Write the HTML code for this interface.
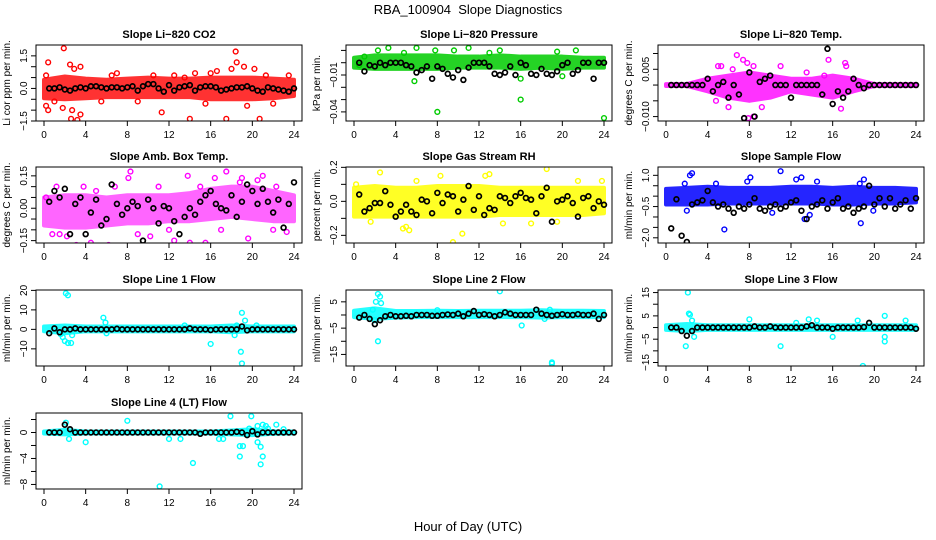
<!DOCTYPE html>
<html><head><meta charset="utf-8">
<style>
body{margin:0;background:#fff;}
svg{display:block;font-family:"Liberation Sans",sans-serif;}
</style></head>
<body>
<svg id="chart" width="936" height="540" viewBox="0 0 936 540" xmlns="http://www.w3.org/2000/svg">
<rect width="936" height="540" fill="#fff"/>
<text x="468" y="14" font-size="13" text-anchor="middle">RBA_100904&#160; Slope Diagnostics</text>
<text x="468" y="531" font-size="13" text-anchor="middle">Hour of Day (UTC)</text>
</svg>
<script>
const hours = [0.5,1,1.5,2,2.5,3,3.5,4,4.5,5,5.5,6,6.5,7,7.5,8,8.5,9,9.5,10,10.5,11,11.5,12,12.5,13,13.5,14,14.5,15,15.5,16,16.5,17,17.5,18,18.5,19,19.5,20,20.5,21,21.5,22,22.5,23,23.5,24];
const bandHours = [0,2,4,6,8,10,12,14,16,18,20,22,24];
const xTicks = [0,4,8,12,16,20,24];

const co2Black = [0.0,0.0,0.05,-0.05,-0.1,0.0,0.05,0.0,0.1,0.1,0.05,0.0,0.05,0.05,0.0,0.05,0.1,-0.1,0.1,0.2,0.2,0.0,-0.15,0.15,-0.1,0.05,0.1,0.15,-0.1,0.05,0.1,0.1,0.05,-0.1,-0.05,0.0,0.05,0.05,0.1,0.0,-0.1,-0.15,0.05,0.0,-0.05,-0.1,-0.15,0.0];
const co2Lo = [-0.45,-0.5,-0.45,-0.4,-0.4,-0.4,-0.4,-0.4,-0.5,-0.5,-0.5,-0.45,-0.35];
const co2Hi = [0.4,0.55,0.45,0.4,0.45,0.5,0.45,0.45,0.5,0.5,0.5,0.45,0.4];
const co2Out = [[1.9,1.85],[0.4,1.2],[0.2,0.6],[2.5,1.1],[2.9,0.9],[3.5,1.0],[0.2,-0.8],[0.4,-1.0],[1.8,-0.9],[2.6,-1.4],[3.2,-1.45],[3.5,-1.2],[2.7,-1.0],[7.0,0.7],[11.3,-1.1],[14.0,-1.4],[14.5,0.7],[17.5,-1.4],[18.4,1.7],[18.5,1.2],[18.0,0.9],[19.2,1.0],[20.2,0.9],[20.7,-1.4],[21.3,0.6],[23.5,0.6],[16.6,0.8],[16.0,0.7],[12.5,0.6],[1.0,-0.6],[5.5,-0.6],[9,-0.6],[15.5,-0.7],[19.5,-0.8],[22,-0.7],[6.5,0.6],[10.5,0.6],[13.5,0.5]];

const presBlack = [0.0,-0.007,-0.002,-0.003,0.0,-0.002,0.0,0.0,0.0,-0.002,-0.003,-0.008,-0.006,-0.003,-0.013,-0.003,-0.005,-0.009,-0.012,-0.006,-0.014,-0.004,0.0,0.0,0.0,-0.003,-0.009,-0.010,-0.008,-0.003,-0.010,0.0,-0.002,-0.009,-0.010,-0.005,-0.009,-0.010,-0.007,-0.002,0.0,-0.009,-0.006,0.0,0.0,-0.013,0.0,0.0];
const presLo = [-0.004,-0.005,-0.005,-0.005,-0.005,-0.004,-0.004,-0.004,-0.005,-0.004,-0.005,-0.004,-0.004];
const presHi = [0.004,0.006,0.006,0.006,0.006,0.005,0.005,0.006,0.005,0.005,0.005,0.004,0.004];
const presOut = [[8,-0.04],[16,-0.03],[24,-0.045],[3.3,0.012],[2.3,0.01],[6,0.012],[9.6,0.01],[13,0.008],[14,0.01],[21.3,0.01],[5.8,-0.015],[16,-0.013],[20,-0.011],[1,0.005],[0.5,-0.002],[4.8,0.008],[7.8,0.01],[11,0.012],[19.5,0.009]];

const tempBlack = [0,0,0,0,0,0,0,0.002,-0.002,0.0,0.001,-0.004,0.0,-0.003,-0.0105,0.004,-0.010,0.001,0.002,0.003,0.0,0.0,0.0,-0.004,0.0,0.0,0.0,0.0,0.0,-0.003,0.0115,-0.006,-0.002,-0.004,-0.002,0.002,0.0,-0.001,0,0,0,0,0,0,0,0,0,0];
const tempLo = [-0.0003,-0.0003,-0.002,-0.004,-0.005,-0.004,-0.002,-0.003,-0.004,-0.002,-0.0003,-0.0003,-0.0003];
const tempHi = [0.0003,0.0003,0.002,0.003,0.004,0.003,0.002,0.002,0.003,0.002,0.0003,0.0003,0.0003];
const tempOut = [[6.8,0.0095],[7.4,0.008],[7.8,0.007],[5,0.006],[5.3,0.006],[7.9,-0.0105],[8.4,-0.010],[4.8,-0.005],[6,-0.007],[9.2,-0.007],[15.6,0.008],[17.2,0.007],[17.3,0.006],[16.8,-0.0075],[16,-0.006],[11,0.006],[8.4,0.006],[6.4,0.005],[13.5,0.004],[15.2,0.003]];

const ambBlack = [0.03,0.08,0.05,0.09,-0.12,0.02,0.05,-0.12,-0.02,0.04,-0.08,-0.05,0.11,0.02,-0.03,0.0,0.03,0.01,-0.15,0.04,0.0,-0.07,0.01,0.0,-0.06,-0.12,-0.04,0.0,-0.03,0.03,0.06,0.08,0.02,0.0,-0.01,0.06,-0.04,0.03,0.11,0.08,0.02,0.09,0.03,-0.02,0.04,-0.09,0.02,0.12];
const ambLo = [-0.08,-0.09,-0.09,-0.08,-0.07,-0.07,-0.06,-0.06,-0.05,-0.04,-0.05,-0.06,-0.06];
const ambHi = [0.05,0.06,0.06,0.05,0.06,0.06,0.06,0.07,0.09,0.1,0.1,0.08,0.06];
const ambOut = [[1.2,0.1],[0.2,0.05],[3.1,-0.17],[5.5,-0.19],[6.2,-0.17],[7.5,-0.18],[9.5,-0.19],[8.1,0.14],[8.3,0.17],[13.8,0.15],[12.5,-0.15],[14,-0.16],[15.5,-0.16],[17.5,0.17],[19.6,-0.14],[21,0.15],[22.3,0.1],[1.5,-0.12],[4.5,-0.16],[10.2,-0.13],[16.4,0.14],[18.8,0.12],[0.8,-0.12],[2.2,-0.13],[3.8,0.1],[5,0.08],[6.8,0.1],[9,-0.12],[11,0.1],[12,-0.1],[15,0.1],[17,-0.1],[19,0.14],[20.5,0.13],[22,-0.1],[23.3,-0.11]];

const rhBlack = [0.04,-0.06,-0.04,-0.01,-0.01,0.06,-0.02,-0.09,-0.06,-0.02,-0.06,-0.08,0.01,0.0,-0.07,0.05,-0.01,0.04,0.03,-0.06,0.01,0.09,-0.05,0.03,-0.08,-0.04,-0.05,0.03,0.02,-0.01,0.03,0.05,0.02,0.01,-0.07,0.03,0.08,-0.12,0.0,0.01,0.03,-0.01,-0.09,0.02,0.03,-0.04,0.0,-0.02];
const rhLo = [-0.09,-0.09,-0.09,-0.09,-0.09,-0.09,-0.09,-0.08,-0.08,-0.08,-0.08,-0.08,-0.07];
const rhHi = [0.08,0.09,0.08,0.08,0.09,0.09,0.09,0.08,0.08,0.08,0.08,0.08,0.08];
const rhOut = [[2.5,0.17],[8.3,0.15],[12.6,0.15],[13,0.16],[18.5,0.19],[9.5,-0.24],[10.4,-0.19],[5,-0.15],[4.7,-0.16],[5.3,-0.17],[23.8,0.12],[0.2,0.1],[19.5,-0.12],[14.3,-0.13],[17,-0.13],[1.6,-0.12],[6,0.12],[21.5,0.12]];

const flowBlack = [-1.55,-0.15,-1.9,-2.2,-0.4,-0.3,-0.2,0.25,-0.3,-0.5,-0.4,-0.6,-0.8,-0.5,-0.6,-0.4,-0.1,-0.6,-0.7,-0.5,-0.4,-0.6,-0.5,-0.3,-0.2,-0.7,-1.1,-0.5,-0.4,-0.2,-0.6,-0.3,-0.1,-0.6,-0.5,-0.8,-0.6,-0.5,0.5,-0.4,-0.1,-0.5,-0.1,-0.6,-0.4,-0.2,-0.6,-0.1];
const flowLo = [-0.4,-0.4,-0.4,-0.35,-0.35,-0.35,-0.35,-0.35,-0.4,-0.4,-0.35,-0.35,-0.3];
const flowHi = [0.35,0.4,0.45,0.4,0.4,0.4,0.45,0.45,0.4,0.45,0.4,0.4,0.35];
const flowOut = [[2.3,1.0],[2.5,1.1],[1.8,0.6],[11,1.2],[13,0.9],[12.5,0.8],[8.1,0.9],[18.6,0.6],[19,0.8],[18.7,-1.3],[19.9,-0.7],[5.6,-1.6],[13.3,-1.1],[13.8,-0.9],[4.8,0.6],[7.8,0.7],[14.5,0.7],[2,-0.7],[10.2,-0.8]];

const l1Black = [-2,0.5,-1.5,0,0,0.5,0,0,0,0,0,0,0,0.3,0,0,0,0,0,0,0,0,0,0,0,0,0,0.5,0,0,0,-0.3,0,0,0,0,0,1.5,-0.5,0,0,0,0,0,0,0,0,0];
const l1Lo = [-1,-2,-1,-1,-1,-1,-1,-1,-1,-1.5,-1,-1,-1];
const l1Hi = [1.5,2,1.5,1.5,1.5,1.5,1.5,1.5,1.5,2,1.5,1.5,1.5];
const l1Out = [[2.1,18.5],[2.3,17.5],[1.8,-4],[2,-6],[2.3,-7],[2.6,-7],[2.7,-3],[5.7,6],[5.9,3.5],[6,-2],[16,-7.5],[18.9,-11.5],[19,-17.5],[19,8.5],[19.3,4.5],[18.5,2],[18.3,-3],[13.5,2],[20.4,2],[1.6,-2.5]];

const l2Black = [-1,0,-1.5,-3.5,-2,-0.5,0,-0.5,-0.5,-0.3,-0.5,0,0,0,-0.3,-0.3,0,0.2,0,0.5,-0.5,0.5,1.5,0,0.3,0,-0.5,0,1,0.5,0,0,0,0,2,0.5,0,-0.3,0,0.3,0,0,0.3,0,0,0.5,-1.5,0];
const l2Lo = [-0.8,-1.5,-1,-0.8,-0.8,-0.8,-0.8,-0.8,-0.8,-1,-0.8,-0.8,-0.8];
const l2Hi = [1.6,2.5,1.5,1.5,1.6,1.5,1.6,1.6,1.6,1.8,1.6,1.6,1.5];
const l2Out = [[2.3,8],[2.5,7],[2.1,5],[2.6,4.5],[2.3,-10],[14,9],[16.1,-4],[19,-18],[19,-18.5],[1.8,2],[18.3,-1.5],[18.8,2],[2,-2],[8,1.8]];

const l3Black = [0,0,-1.5,-3.5,-1.5,0,0,0,0,0,0,0,0,0,0,0,0.5,0,0,0.5,0,0,0,0,0,0,0.5,1,0,0,0,-0.5,0,0,0,0,0,0.2,2,0,0,0,0,0,0,0,0,-0.5];
const l3Lo = [-1,-1.5,-1,-1,-1,-1,-1,-1,-1,-1,-1,-1,-1];
const l3Hi = [1,1.5,1,1,1,1,1,1,1,1,1,1,1];
const l3Out = [[2.1,15],[2.2,6],[2.3,5.5],[2.5,3],[1.9,-8],[2.7,-4],[11,-8],[16,-4],[18.9,-16.5],[21,-6],[21,5],[21,-4],[23,3],[18.4,3],[8,3.5],[13.7,3.5],[14.5,3],[19.5,2],[12.5,2]];

const l4Black = [0,0,0,1.2,0.5,0,0,0,0,0,0,0,0,0,0,0,0,0,0,0,0,0,0,0,0,0,0,0,0,-0.2,0,0,0,0,0,0,0.1,0,-0.4,0.2,-0.3,0,0,0,0,0,0,0];
const l4Lo = [-0.15,-0.3,-0.15,-0.15,-0.15,-0.15,-0.15,-0.15,-0.15,-0.3,-0.4,-0.2,-0.15];
const l4Hi = [0.15,0.4,0.15,0.15,0.15,0.15,0.15,0.15,0.15,0.3,0.5,0.2,0.15];
const l4Out = [[2.1,1.5],[2.4,-1],[4,-1.5],[8,1.8],[11.1,-8.3],[12,-1],[13.1,-1],[14.3,-4.7],[16.8,-1],[17.2,-1],[17.9,2.5],[18.8,-2.1],[19.1,-2.1],[18.8,-3.7],[19.9,2.5],[20.5,-1.5],[20.8,-2.2],[21,-3.7],[20.8,-4.9],[21,1.2],[21.3,1],[22.3,1.2],[23,0.5],[20.5,1],[21.5,0.6],[19.7,0.6]];

const co2Ticks=[-1.5,-1,-0.5,0,0.5,1,1.5], co2Labels=["\u22121.5","","","0.0","","","1.5"];
const presTicks=[-0.04,-0.03,-0.02,-0.01,0,0.01], presLabels=["\u22120.04","","","\u22120.01","",""];
const tempTicks=[-0.01,-0.005,0,0.005,0.01], tempLabels=["\u22120.010","","","0.005",""];
const ambTicks=[-0.15,-0.1,-0.05,0,0.05,0.1,0.15], ambLabels=["\u22120.15","","","0.00","","","0.15"];
const rhTicks=[-0.2,-0.1,0,0.1,0.2], rhLabels=["\u22120.2","","0.0","","0.2"];
const flowTicks=[-2,-1.5,-1,-0.5,0,0.5,1], flowLabels=["\u22122.0","","","\u22120.5","","","1.0"];
const l1Ticks=[-10,0,10,20], l1Labels=["\u221210","0","10","20"];
const l2Ticks=[-15,-10,-5,0,5], l2Labels=["\u221215","","\u22125","","5"];
const l3Ticks=[-15,-10,-5,0,5,10,15], l3Labels=["\u221215","","\u22125","","5","","15"];
const l4Ticks=[-8,-6,-4,-2,0,2], l4Labels=["\u22128","","\u22124","","0",""];

const panels = [
 {name:"co2",title:"Slope Li\u2212820 CO2",ylab:"Li cor ppm per min.",col:0,row:0,ymin:-1.5,ymax:2.0,color:"#ff0000",op:0.8,black:co2Black,lo:co2Lo,hi:co2Hi,out:co2Out,ticks:co2Ticks,labels:co2Labels},
 {name:"pressure",title:"Slope Li\u2212820 Pressure",ylab:"kPa per min.",col:1,row:0,ymin:-0.0474,ymax:0.0144,color:"#00cc00",op:0.85,black:presBlack,lo:presLo,hi:presHi,out:presOut,ticks:presTicks,labels:presLabels},
 {name:"li820-temp",title:"Slope Li\u2212820 Temp.",ylab:"degrees C per min.",col:2,row:0,ymin:-0.0114,ymax:0.0127,color:"#ff00ff",op:0.8,black:tempBlack,lo:tempLo,hi:tempHi,out:tempOut,ticks:tempTicks,labels:tempLabels},
 {name:"amb-box-temp",title:"Slope Amb. Box Temp.",ylab:"degrees C per min.",col:0,row:1,ymin:-0.161,ymax:0.191,color:"#ff00ff",op:0.6,black:ambBlack,lo:ambLo,hi:ambHi,out:ambOut,ticks:ambTicks,labels:ambLabels},
 {name:"gas-stream-rh",title:"Slope Gas Stream RH",ylab:"percent per min.",col:1,row:1,ymin:-0.245,ymax:0.202,color:"#ffff00",op:0.85,black:rhBlack,lo:rhLo,hi:rhHi,out:rhOut,ticks:rhTicks,labels:rhLabels},
 {name:"sample-flow",title:"Slope Sample Flow",ylab:"ml/min per min.",col:2,row:1,ymin:-2.25,ymax:1.40,color:"#0000ff",op:0.85,black:flowBlack,lo:flowLo,hi:flowHi,out:flowOut,ticks:flowTicks,labels:flowLabels},
 {name:"line1-flow",title:"Slope Line 1 Flow",ylab:"ml/min per min.",col:0,row:2,ymin:-18.8,ymax:20.2,color:"#00ffff",op:0.85,black:l1Black,lo:l1Lo,hi:l1Hi,out:l1Out,ticks:l1Ticks,labels:l1Labels},
 {name:"line2-flow",title:"Slope Line 2 Flow",ylab:"ml/min per min.",col:1,row:2,ymin:-19.4,ymax:9.5,color:"#00ffff",op:0.85,black:l2Black,lo:l2Lo,hi:l2Hi,out:l2Out,ticks:l2Ticks,labels:l2Labels},
 {name:"line3-flow",title:"Slope Line 3 Flow",ylab:"ml/min per min.",col:2,row:2,ymin:-16.5,ymax:16.1,color:"#00ffff",op:0.85,black:l3Black,lo:l3Lo,hi:l3Hi,out:l3Out,ticks:l3Ticks,labels:l3Labels},
 {name:"line4-flow",title:"Slope Line 4 (LT) Flow",ylab:"ml/min per min.",col:0,row:3,ymin:-8.7,ymax:3.0,color:"#00ffff",op:0.85,black:l4Black,lo:l4Lo,hi:l4Hi,out:l4Out,ticks:l4Ticks,labels:l4Labels}
];

const NS="http://www.w3.org/2000/svg";
const svg=document.getElementById('chart');
const colLeft=[36,346,658], rowTop=[45,167,290,413], W=266, H=76;
function mk(tag,attrs,parent){const e=document.createElementNS(NS,tag);for(const k in attrs)e.setAttribute(k,attrs[k]);parent.appendChild(e);return e;}

panels.forEach(p=>{
  const L=colLeft[p.col], T=rowTop[p.row];
  const g=mk('g',{},svg);
  
  
  const xs=v=>L+8+v/24*(W-16);
  const ys=v=>T+H-(v-p.ymin)/(p.ymax-p.ymin)*H;
  const clip=mk('clipPath',{id:'c-'+p.name},g);
  mk('rect',{x:L,y:T,width:W,height:H},clip);
  const plot=mk('g',{'clip-path':'url(#c-'+p.name+')'},g);
  let d='';
  bandHours.forEach((h,i)=>{d+=(i?'L':'M')+xs(h)+','+ys(p.hi[i]);});
  for(let i=bandHours.length-1;i>=0;i--){d+='L'+xs(bandHours[i])+','+ys(p.lo[i]);}
  const band=mk('path',{d:d+'Z',fill:p.color,stroke:p.color,'stroke-width':4,'stroke-linejoin':'round',opacity:p.op},plot);
  
  
  p.out.forEach(o=>{
    const c=mk('circle',{cx:xs(o[0]),cy:ys(o[1]),r:2.4,fill:'none',stroke:p.color,'stroke-width':1.4},plot);
    
    
  });
  p.black.forEach((v,i)=>{
    const c=mk('circle',{cx:xs(hours[i]),cy:ys(v),r:2.4,fill:'none',stroke:'#000','stroke-width':1.7},plot);
    
    
  });
  const box=mk('rect',{x:L,y:T,width:W,height:H,fill:'none',stroke:'#000','stroke-width':1},g);
  
  
  const t=mk('text',{x:L+W/2,y:T-7,'font-size':11,'font-weight':'bold','text-anchor':'middle'},g);
  t.textContent=p.title;
  
  
  xTicks.forEach(v=>{
    mk('line',{x1:xs(v),x2:xs(v),y1:T+H,y2:T+H+5,stroke:'#000'},g);
    const tx=mk('text',{x:xs(v),y:T+H+17,'font-size':10,'text-anchor':'middle'},g);
    tx.textContent=v;
    
    
  });
  p.ticks.forEach((v,i)=>{
    const y=ys(v);
    mk('line',{x1:L,x2:L-5,y1:y,y2:y,stroke:'#000'},g);
    if(p.labels[i]){
      const tx=mk('text',{x:L-9,y:y,'font-size':10,'text-anchor':'middle',transform:'rotate(-90 '+(L-9)+' '+y+')'},g);
      tx.textContent=p.labels[i];
      
      
    }
  });
  const yl=mk('text',{x:L-26,y:T+H/2,'font-size':10,'text-anchor':'middle',transform:'rotate(-90 '+(L-26)+' '+(T+H/2)+')'},g);
  yl.textContent=p.ylab;
  
  
});
</script>
</body></html>
